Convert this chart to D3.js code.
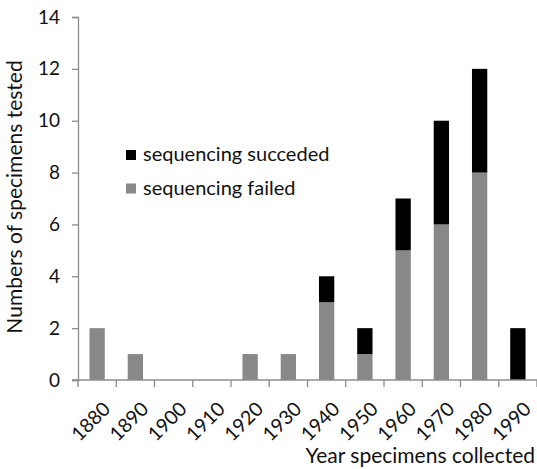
<!DOCTYPE html>
<html><head><meta charset="utf-8">
<script src="https://cdn.jsdelivr.net/npm/d3@7"></script>
<style>body{margin:0;background:#fff}svg{display:block}text{font-family:Lato,"Open Sans",sans-serif}</style>
</head><body>
<svg id="c" width="537" height="469"></svg>
<script>
const years = ["1880","1890","1900","1910","1920","1930","1940","1950","1960","1970","1980","1990"];
const failed = [2,1,0,0,1,1,3,1,5,6,8,0];
const succeeded = [0,0,0,0,0,0,1,1,2,4,4,2];
const yTicks = [0,2,4,6,8,10,12,14];
const seriesNames = ["sequencing succeded","sequencing failed"];

const svg = d3.select("#c");
const m = {l:78, r:0, t:17, b:89};
const x = d3.scaleBand().domain(years).range([m.l, 537]).paddingInner(0.6).paddingOuter(0.3);
const xTick = d3.scaleBand().domain(years).range([m.l, 537]);
const y = d3.scaleLinear().domain([0,14]).range([380, m.t]);
const axisCol = "#8c8c8c";

const data = years.map((yr,i)=>({yr, failed:failed[i], succeeded:succeeded[i]}));
const stack = d3.stack().keys(["failed","succeeded"])(data);
const colors = {failed:"#888888", succeeded:"#000000"};

svg.append("g").selectAll("g").data(stack).join("g")
  .attr("fill", d=>colors[d.key])
  .selectAll("rect").data(d=>d).join("rect")
  .attr("x", d=>x(d.data.yr))
  .attr("width", x.bandwidth())
  .attr("y", d=>y(d[1]))
  .attr("height", d=>y(d[0])-y(d[1]));

// y axis
const yg = svg.append("g").attr("transform",`translate(${m.l},0)`)
  .call(d3.axisLeft(y).tickValues(yTicks).tickSize(6).tickPadding(12));
yg.select(".domain").attr("stroke",axisCol).attr("stroke-width",1.3);
yg.selectAll(".tick line").attr("stroke",axisCol).attr("stroke-width",1.3);
yg.selectAll(".tick text").attr("font-size",19).attr("fill","#111").attr("font-family","Lato");

// x axis
const xg = svg.append("g").attr("transform",`translate(0,380)`);
xg.append("line").attr("x1",m.l-6).attr("x2",537).attr("y1",0).attr("y2",0).attr("stroke",axisCol).attr("stroke-width",1.3);
xg.selectAll("line.t").data(years.concat(["end"])).join("line").attr("class","t")
  .attr("x1",(d,i)=>m.l+i*xTick.bandwidth()).attr("x2",(d,i)=>m.l+i*xTick.bandwidth())
  .attr("y1",0).attr("y2",7).attr("stroke",axisCol).attr("stroke-width",1.3);
xg.selectAll("text").data(years).join("text")
  .attr("transform",d=>`translate(${xTick(d)+xTick.bandwidth()/2+4},${20}) rotate(-45)`)
  .attr("text-anchor","end").attr("dy","0.75em")
  .attr("font-size",19.5).attr("fill","#111").text(d=>d);

// titles
svg.append("text").attr("transform","translate(22,197) rotate(-90)")
  .attr("text-anchor","middle").attr("font-size",21).attr("fill","#111")
  .text("Numbers of specimens tested");
svg.append("text").attr("x",535).attr("y",463).attr("text-anchor","end")
  .attr("font-size",21).attr("fill","#111").text("Year specimens collected");

// legend
const lg = svg.append("g");
seriesNames.forEach((n,i)=>{
  lg.append("rect").attr("x",126).attr("y",150+i*33.5).attr("width",10).attr("height",10)
    .attr("fill", i===0?colors.succeeded:colors.failed);
  lg.append("text").attr("x",143).attr("y",161+i*33.5).attr("font-size",20).attr("fill","#111").text(n);
});
</script>
</body></html>
